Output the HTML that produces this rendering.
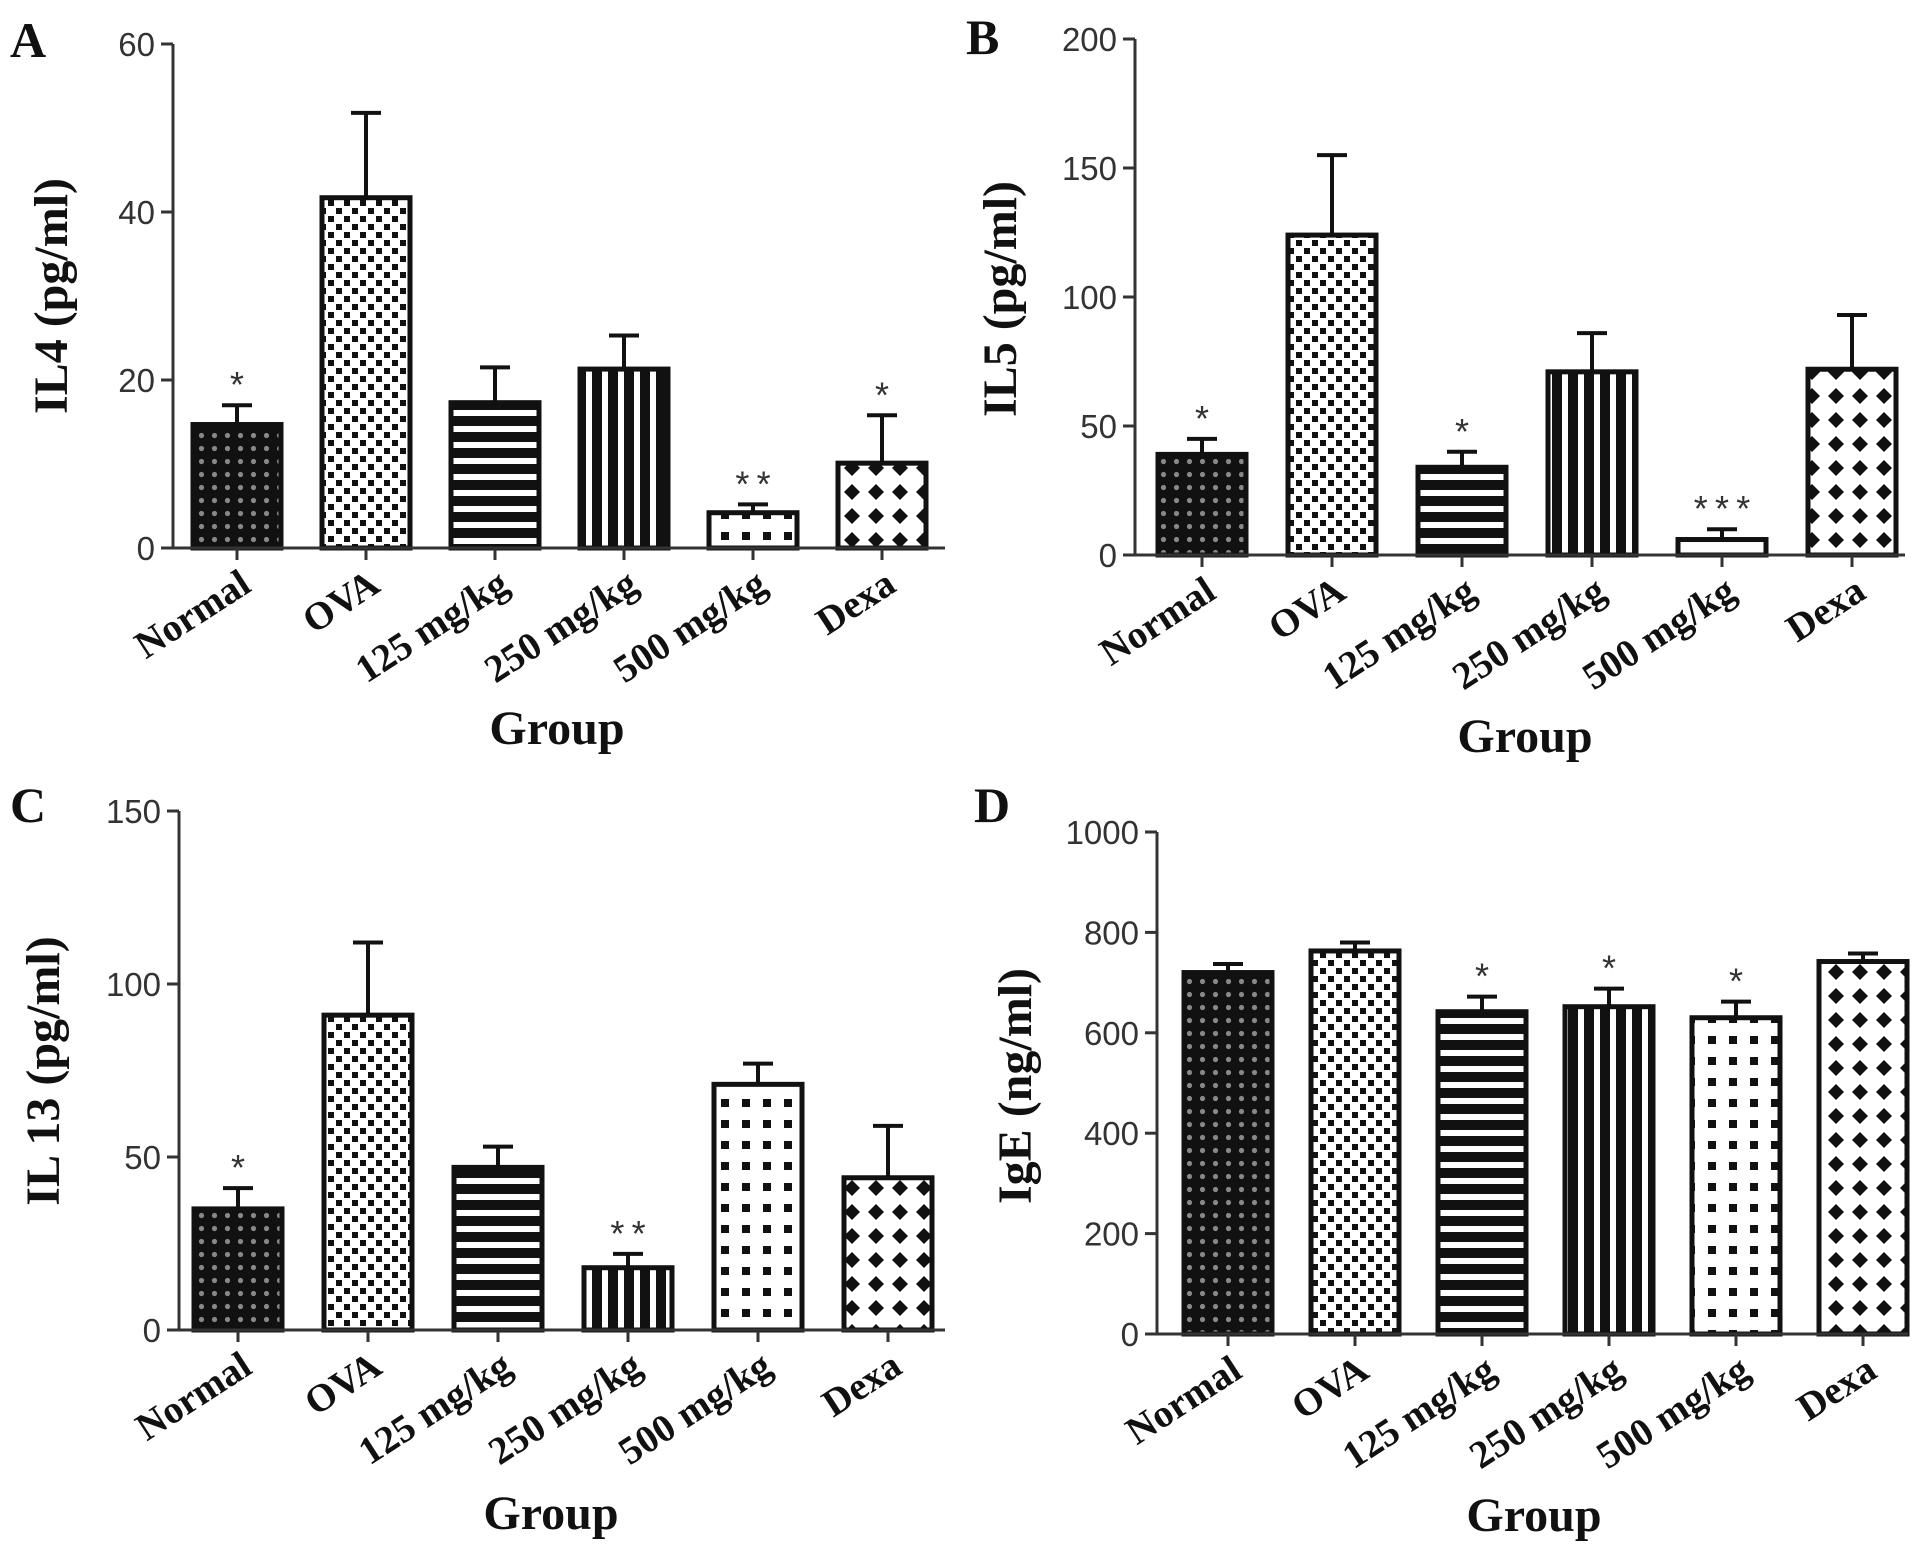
<!DOCTYPE html>
<html><head><meta charset="utf-8"><style>
html,body{margin:0;padding:0;background:#fff;}
svg{display:block;}
.tick{font-family:"Liberation Sans",Arial,sans-serif;font-size:33px;fill:#333;}
.cat{font-family:"Liberation Serif",serif;font-weight:bold;font-size:39px;fill:#111;}
.ttl{font-family:"Liberation Serif",serif;font-weight:bold;font-size:48px;fill:#111;}
.let{font-family:"Liberation Serif",serif;font-weight:bold;font-size:50px;fill:#111;}
.star{font-family:"Liberation Sans",sans-serif;font-size:36px;fill:#333;}
</style></head><body>
<svg id="fig" width="1913" height="1553" viewBox="0 0 1913 1553" xmlns="http://www.w3.org/2000/svg">
<defs>
<pattern id="p0" width="13" height="13" patternUnits="userSpaceOnUse"><rect width="13" height="13" fill="#111"/><circle cx="6.5" cy="6.5" r="2.6" fill="#888"/></pattern>
<pattern id="p1" width="16" height="16" patternUnits="userSpaceOnUse"><rect width="16" height="16" fill="#fff"/><rect x="0" y="0" width="6" height="6" fill="#111"/><rect x="8" y="8" width="6" height="6" fill="#111"/></pattern>
<pattern id="p2" width="16" height="16" patternUnits="userSpaceOnUse"><rect width="16" height="16" fill="#fff"/><rect x="0" y="0" width="16" height="10" fill="#111"/></pattern>
<pattern id="p3" width="16" height="16" patternUnits="userSpaceOnUse"><rect width="16" height="16" fill="#fff"/><rect x="0" y="0" width="10" height="16" fill="#111"/></pattern>
<pattern id="p4" width="21" height="21" patternUnits="userSpaceOnUse"><rect width="21" height="21" fill="#fff"/><rect x="7" y="7" width="8" height="8" fill="#111"/></pattern>
<pattern id="p5" width="24" height="24" patternUnits="userSpaceOnUse"><rect width="24" height="24" fill="#fff"/><path d="M12 4 L20 12 L12 20 L4 12Z" fill="#111"/></pattern>
</defs>
</svg>
<script>
const categories = ["Normal","OVA","125 mg/kg","250 mg/kg","500 mg/kg","Dexa"];
const valuesA = [14.7,41.7,17.3,21.3,4.2,10.1];
const errorsA = [17.0,51.8,21.5,25.3,5.2,15.8];
const starsA = ["*","","","","**","*"];
const ticksA = [0,20,40,60];
const valuesB = [39,124,34,71,6,72];
const errorsB = [45,155,40,86,10,93];
const starsB = ["*","","*","","***",""];
const ticksB = [0,50,100,150,200];
const valuesC = [35,91,47,18,71,44];
const errorsC = [41,112,53,22,77,59];
const starsC = ["*","","","**","",""];
const ticksC = [0,50,100,150];
const valuesD = [720,763,642,652,630,742];
const errorsD = [737,780,672,688,662,758];
const starsD = ["","","*","*","*",""];
const ticksD = [0,200,400,600,800,1000];

const NS="http://www.w3.org/2000/svg";
const svg=document.getElementById('fig');
function mk(tag,attrs,parent){const e=document.createElementNS(NS,tag);for(const k in attrs)e.setAttribute(k,attrs[k]);(parent||svg).appendChild(e);return e;}

function panel(cfg){
  const g=mk('g',{});
  
  
  const ymax=cfg.ticks[cfg.ticks.length-1];
  const y=v=>cfg.y0-(v/ymax)*(cfg.y0-cfg.yTop);
  const x=i=>cfg.x0c+i*cfg.step;
  const bw=88;
  cfg.values.forEach((v,i)=>{
    const eb=mk('line',{x1:x(i),x2:x(i),y1:y(v),y2:y(cfg.errors[i]),stroke:'#111','stroke-width':4},g);
    
    
    const cap=mk('line',{x1:x(i)-15,x2:x(i)+15,y1:y(cfg.errors[i]),y2:y(cfg.errors[i]),stroke:'#111','stroke-width':4},g);
    
    
    const r=mk('rect',{x:x(i)-bw/2,y:y(v),width:bw,height:cfg.y0-y(v),fill:'url(#p'+i+')',stroke:'#111','stroke-width':5},g);
    
    
    if(cfg.stars[i]){
      const s=mk('text',{x:x(i),y:y(cfg.errors[i])-8,'text-anchor':'middle',class:'star'},g);
      s.textContent=cfg.stars[i].split('').join('\u2009');
      
      
    }
    const tk=mk('line',{x1:x(i),x2:x(i),y1:cfg.y0,y2:cfg.y0+12,stroke:'#333','stroke-width':3},g);
    
    
    const lb=mk('text',{x:0,y:0,'text-anchor':'end',class:'cat',transform:'translate('+(x(i)+16)+','+(cfg.y0+42)+') rotate(-33)'},g);
    lb.textContent=categories[i];
    
    
  });
  const ya=mk('line',{x1:cfg.ax,x2:cfg.ax,y1:cfg.yTop,y2:cfg.y0+1.5,stroke:'#333','stroke-width':3},g);
  
  
  const xa=mk('line',{x1:cfg.ax-12,x2:cfg.xEnd,y1:cfg.y0,y2:cfg.y0,stroke:'#333','stroke-width':3},g);
  
  
  cfg.ticks.forEach(t=>{
    const tl=mk('line',{x1:cfg.ax-12,x2:cfg.ax,y1:y(t),y2:y(t),stroke:'#333','stroke-width':3},g);
    
    
    const tt=mk('text',{x:cfg.ax-18,y:y(t)+12,'text-anchor':'end',class:'tick'},g);
    tt.textContent=t;
    
    
  });
  const yt=mk('text',{x:0,y:0,'text-anchor':'middle',class:'ttl',transform:'translate('+(cfg.ytx+16)+','+cfg.yty+') rotate(-90)'},g);
  yt.textContent=cfg.ytitle;
  
  
  const xt=mk('text',{x:cfg.gx,y:cfg.gy+16,'text-anchor':'middle',class:'ttl'},g);
  xt.textContent='Group';
  
  
  const le=mk('text',{x:cfg.lx,y:cfg.ly+17,class:'let'},g);
  le.textContent=cfg.letter;
  
  
}

panel({name:'panel-a-il4',values:valuesA,errors:errorsA,stars:starsA,ticks:ticksA,ax:173,y0:548,yTop:44,x0c:237,step:129,xEnd:945,ytitle:'IL4 (pg/ml)',ytx:51,yty:296,gx:557,gy:728,letter:'A',lx:10,ly:40});
panel({name:'panel-b-il5',values:valuesB,errors:errorsB,stars:starsB,ticks:ticksB,ax:1135,y0:555,yTop:39,x0c:1202,step:130,xEnd:1905,ytitle:'IL5 (pg/ml)',ytx:1000,yty:299,gx:1525,gy:736,letter:'B',lx:966,ly:37});
panel({name:'panel-c-il13',values:valuesC,errors:errorsC,stars:starsC,ticks:ticksC,ax:179,y0:1330,yTop:811,x0c:238,step:130,xEnd:945,ytitle:'IL 13 (pg/ml)',ytx:43,yty:1071,gx:551,gy:1513,letter:'C',lx:10,ly:805});
panel({name:'panel-d-ige',values:valuesD,errors:errorsD,stars:starsD,ticks:ticksD,ax:1157,y0:1334,yTop:832,x0c:1228,step:127,xEnd:1908,ytitle:'IgE (ng/ml)',ytx:1015,yty:1086,gx:1534,gy:1515,letter:'D',lx:974,ly:805});
</script>
</body></html>
